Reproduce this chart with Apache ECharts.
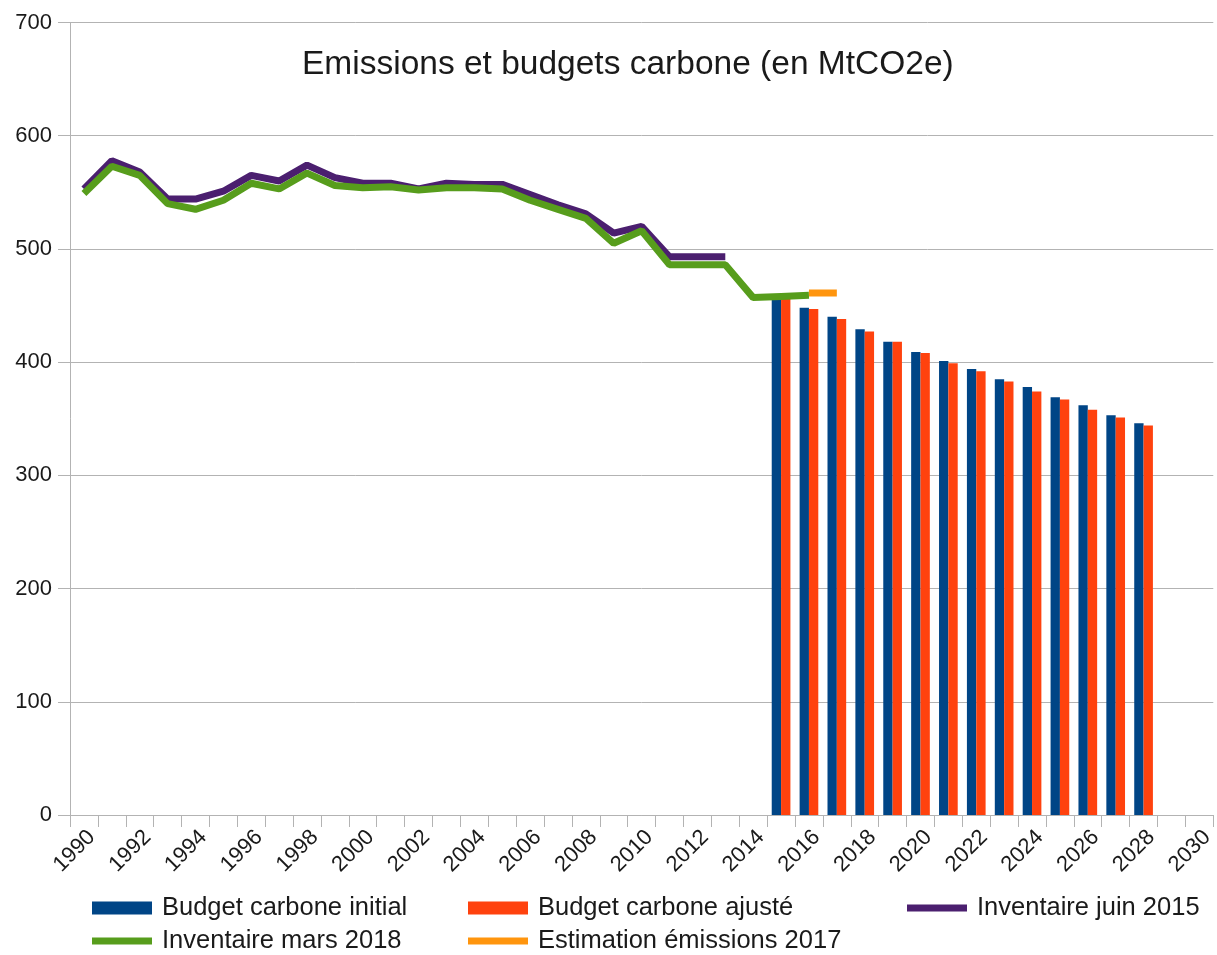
<!DOCTYPE html>
<html>
<head>
<meta charset="utf-8" />
<title>Emissions et budgets carbone</title>
<style type="text/css">
*{margin:0;padding:0;}
#chart{width:1217px;height:955px;}
</style>
</head>
<body>
<div id="chart"></div>
<script src="https://cdn.jsdelivr.net/npm/echarts@6/dist/echarts.min.js"></script>
<script type="text/javascript">
var years = ['1990','1991','1992','1993','1994','1995','1996','1997','1998','1999',
	'2000','2001','2002','2003','2004','2005','2006','2007','2008','2009',
	'2010','2011','2012','2013','2014','2015','2016','2017','2018','2019',
	'2020','2021','2022','2023','2024','2025','2026','2027','2028','2029','2030'];
var yTicks = [0, 100, 200, 300, 400, 500, 600, 700];

// budgets, 2015 -> 2028
var budgetStart = 2015;
var budgetInitial = [455, 448, 440, 429, 418, 409, 401, 394, 385, 378, 369, 362, 353, 346];
var budgetAjuste  = [456, 447, 438, 427, 418, 408, 399, 392, 383, 374, 367, 358, 351, 344];

// inventaire juin 2015, 1990 -> 2013
var inv2015Start = 1990;
var inv2015 = [553, 578, 568, 544, 544, 551, 565, 560, 574, 563,
	558, 558, 553, 558, 557, 557, 548, 539, 531, 514,
	520, 493, 493, 493];

// inventaire mars 2018, 1990 -> 2016
var inv2018Start = 1990;
var inv2018 = [549, 573, 565, 540, 535, 543, 558, 553, 567, 556,
	554, 555, 552, 554, 554, 553, 543, 535, 527, 505,
	516, 486, 486, 486, 457, 458, 459];

// estimation 2017, 2016 -> 2017
var estimStart = 2016;
var estim2017 = [461, 461];

function byYear(start, vals) {
	return vals.map(function (v, i) { return [String(start + i), v]; });
}

var font = 'Liberation Sans';
var grey = '#b3b3b3';
var lineIcon = 'path://M0,0H60V7H0Z';

// one legend per entry so the columns line up like the original
function legendAt(name, icon, left, top) {
	return {
		left: left, top: top, padding: 0, itemWidth: 60, itemHeight: 13, selectedMode: false,
		textStyle: { fontFamily: font, fontSize: 25.5, lineHeight: 28, color: '#1a1a1a', padding: [0, 0, 0, 5] },
		data: [{ name: name, icon: icon }]
	};
}

var chart = echarts.init(document.getElementById('chart'));
chart.setOption({
	animation: false,
	title: {
		text: 'Emissions et budgets carbone (en MtCO2e)',
		left: 302,
		top: 48,
		padding: 0,
		textStyle: { fontFamily: font, fontSize: 33.5, fontWeight: 'normal', color: '#1a1a1a' }
	},
	legend: [
		legendAt('Budget carbone initial', 'rect', 92, 894),
		legendAt('Budget carbone ajusté', 'rect', 468, 894),
		legendAt('Inventaire juin 2015', lineIcon, 907, 894),
		legendAt('Inventaire mars 2018', lineIcon, 92, 927),
		legendAt('Estimation émissions 2017', lineIcon, 468, 927)
	],
	grid: { left: 70, right: 2, top: 22.5, bottom: 140 },
	xAxis: {
		type: 'category',
		data: years,
		boundaryGap: true,
		axisLine: { lineStyle: { color: grey } },
		axisTick: { show: true, interval: 0, length: 12, lineStyle: { color: grey } },
		axisLabel: {
			interval: 1, rotate: 45, margin: 11, verticalAlign: 'top',
			fontFamily: font, fontSize: 22, color: '#1a1a1a'
		},
		splitLine: { show: false }
	},
	yAxis: {
		type: 'value',
		min: yTicks[0],
		max: yTicks[yTicks.length - 1],
		interval: 100,
		axisLine: { show: true, lineStyle: { color: grey } },
		axisTick: { show: true, length: 12, lineStyle: { color: grey } },
		axisLabel: { margin: 18, fontFamily: font, fontSize: 22, color: '#1a1a1a' },
		splitLine: { lineStyle: { color: grey } }
	},
	series: [
		{
			name: 'Budget carbone initial', type: 'bar',
			data: byYear(budgetStart, budgetInitial),
			itemStyle: { color: '#004586' },
			barGap: '0%', barCategoryGap: '33%'
		},
		{
			name: 'Budget carbone ajusté', type: 'bar',
			data: byYear(budgetStart, budgetAjuste),
			itemStyle: { color: '#ff420e' },
			barGap: '0%', barCategoryGap: '33%'
		},
		{
			name: 'Inventaire juin 2015', type: 'line', symbol: 'none',
			data: byYear(inv2015Start, inv2015),
			itemStyle: { color: '#4b1f6f' },
			lineStyle: { width: 7, color: '#4b1f6f' }
		},
		{
			name: 'Inventaire mars 2018', type: 'line', symbol: 'none',
			data: byYear(inv2018Start, inv2018),
			itemStyle: { color: '#579d1c' },
			lineStyle: { width: 7, color: '#579d1c' }
		},
		{
			name: 'Estimation émissions 2017', type: 'line', symbol: 'none',
			data: byYear(estimStart, estim2017),
			itemStyle: { color: '#ff950e' },
			lineStyle: { width: 7, color: '#ff950e' }
		}
	]
});
</script>
</body>
</html>
